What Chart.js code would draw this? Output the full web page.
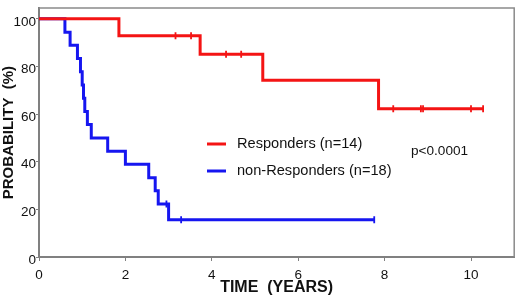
<!DOCTYPE html>
<html><head><meta charset="utf-8">
<script src="https://cdn.jsdelivr.net/npm/chart.js@4"></script>
<style>html,body{margin:0;padding:0;background:#fff}#wrap{width:520px;height:299px}</style>
</head><body><div id="wrap"><canvas id="c" width="520" height="299"></canvas></div>
<script>
// Kaplan-Meier data (time in years, probability in %)
const respTimes = [0, 1.85, 3.73, 5.18, 7.86, 10.28];
const respSurv  = [100, 92.9, 85.1, 74.2, 62.2, 62.2];
const respCensor = [3.16, 3.52, 4.33, 4.68, 8.2, 8.84, 8.89, 10.0, 10.28];

const nonTimes = [0, 0.6, 0.72, 0.89, 0.96, 1.0, 1.03, 1.06, 1.12, 1.21, 1.59, 2.0, 2.54, 2.69, 2.76, 3.0, 7.76];
const nonSurv  = [100, 94.4, 88.9, 83.3, 77.8, 72.2, 66.7, 61.1, 55.6, 50.0, 44.4, 38.9, 33.3, 27.8, 22.2, 15.6, 15.6];
const nonCensor = [2.95, 3.29, 7.76];

const xTicks = [0, 2, 4, 6, 8, 10];
const yTicks = [0, 20, 40, 60, 80, 100];
const legendLabels = ['Responders (n=14)', 'non-Responders (n=18)'];
const pText = 'p<0.0001';

const RED = '#f41414', BLUE = '#1616f0';

function pts(t, s) { return t.map((v, i) => ({x: v, y: s[i]})); }
function levelAt(t, s, x) { let y = s[0]; for (let i = 0; i < t.length; i++) if (t[i] <= x) y = s[i]; return y; }
function censorPts(c, t, s) { return c.map(x => ({x: x, y: levelAt(t, s, x)})); }

const framePlugin = {
  id: 'frame',
  afterDatasetsDraw(chart) {
    const {ctx, chartArea: a} = chart;
    ctx.save();
    ctx.strokeStyle = '#8a8a8a'; ctx.lineWidth = 1.5;
    ctx.beginPath();
    ctx.moveTo(a.left, a.top); ctx.lineTo(a.right, a.top); ctx.lineTo(a.right, a.bottom);
    ctx.stroke();
    // legend
    ctx.font = '14.6px "Liberation Sans", Arial, sans-serif';
    ctx.textBaseline = 'middle'; ctx.fillStyle = '#111';
    const items = [[RED, 144], [BLUE, 171]];
    items.forEach((it, i) => {
      ctx.strokeStyle = it[0]; ctx.lineWidth = 3;
      ctx.beginPath(); ctx.moveTo(207, it[1]); ctx.lineTo(226, it[1]); ctx.stroke();
      ctx.fillText(legendLabels[i], 237, it[1]);
    });
    ctx.font = '13.6px "Liberation Sans", Arial, sans-serif';
    ctx.fillText(pText, 411, 151);
    ctx.restore();
  }
};

const lineDs = (label, data, color) => ({
  type: 'line', label, data, borderColor: color, backgroundColor: color,
  borderWidth: 3, stepped: true, pointRadius: 0, fill: false, tension: 0
});
const censorDs = (label, data, color) => ({
  type: 'scatter', label, data, borderColor: color, backgroundColor: color,
  pointStyle: 'line', rotation: 90, pointRadius: 3.5, borderWidth: 1.8, showLine: false
});

new Chart(document.getElementById('c'), {
  data: {
    datasets: [
      lineDs('Responders', pts(respTimes, respSurv), RED),
      lineDs('non-Responders', pts(nonTimes, nonSurv), BLUE),
      censorDs('Responders censored', censorPts(respCensor, respTimes, respSurv), RED),
      censorDs('non-Responders censored', censorPts(nonCensor, nonTimes, nonSurv), BLUE)
    ]
  },
  options: {
    responsive: false, animation: false,
    layout: {padding: {top: 4, right: 4, left: 0, bottom: 0}},
    plugins: {legend: {display: false}, tooltip: {enabled: false}},
    scales: {
      x: {
        type: 'linear', min: 0, max: 11,
        afterFit(s) { s.height = 42; },
        afterBuildTicks(s) { s.ticks = xTicks.map(v => ({value: v})); },
        border: {display: true, color: '#808080', width: 2},
        grid: {drawOnChartArea: false, drawTicks: true, tickLength: 4, color: '#808080'},
        ticks: {font: {size: 13.5, family: '"Liberation Sans", Arial, sans-serif'}, color: '#111', padding: 6, maxRotation: 0},
        title: {display: true, text: 'TIME  (YEARS)', color: '#111',
          font: {size: 16, weight: 'bold', family: '"Liberation Sans", Arial, sans-serif'}, padding: {top: 0, bottom: 2}}
      },
      y: {
        type: 'linear', min: 0, max: 104.5,
        afterFit(s) { s.width = 39; },
        afterBuildTicks(s) { s.ticks = yTicks.map(v => ({value: v})); },
        border: {display: true, color: '#808080', width: 2},
        grid: {drawOnChartArea: false, drawTicks: true, tickLength: 3, color: '#808080'},
        ticks: {font: {size: 13.5, family: '"Liberation Sans", Arial, sans-serif'}, color: '#111', padding: 0, labelOffset: 3},
        title: {display: true, text: 'PROBABILITY  (%)', color: '#111',
          font: {size: 15, weight: 'bold', family: '"Liberation Sans", Arial, sans-serif'}, padding: 0}
      }
    }
  },
  plugins: [framePlugin]
});
</script>
</body></html>
